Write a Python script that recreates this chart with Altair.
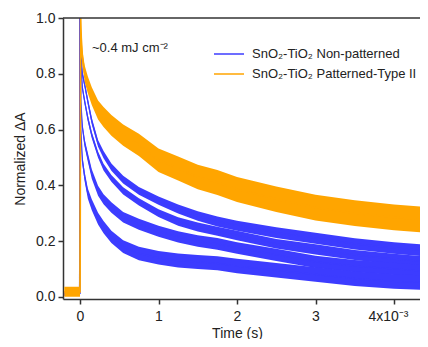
import altair as alt
import pandas as pd

# time in ms (axis shows x10^-3 s)
T_BLUE = [-0.2, -0.1, -0.005, 0.0, 0.01, 0.03, 0.06, 0.1, 0.15, 0.23, 0.3, 0.4, 0.55,
          0.75, 1.0, 1.25, 1.5, 1.75, 2.0, 2.5, 3.0, 3.5, 4.0, 4.45]
T_ORANGE = [-0.2, -0.1, 0.0, 0.008, 0.015, 0.03, 0.06, 0.1, 0.15, 0.23, 0.3, 0.4, 0.55,
            0.75, 1.0, 1.25, 1.5, 1.75, 2.0, 2.5, 3.0, 3.5, 4.0, 4.45]

ORANGE = [0.018, 0.018, 0.018, 1.0, 0.93, 0.86, 0.80, 0.76, 0.72, 0.67, 0.645, 0.615,
          0.58, 0.545, 0.49, 0.46, 0.43, 0.41, 0.385, 0.35, 0.32, 0.30, 0.285, 0.275]
B1 = [0.012, 0.012, 0.012, 1.0, 0.88, 0.80, 0.76, 0.70, 0.63, 0.55, 0.51, 0.465, 0.42,
      0.38, 0.345, 0.315, 0.29, 0.27, 0.255, 0.23, 0.21, 0.19, 0.175, 0.165]
B2 = [0.012, 0.012, 0.012, 1.0, 0.85, 0.75, 0.70, 0.64, 0.58, 0.51, 0.465, 0.425, 0.38,
      0.34, 0.30, 0.27, 0.25, 0.235, 0.22, 0.19, 0.17, 0.15, 0.135, 0.125]
B3 = [0.012, 0.012, 0.012, 1.0, 0.70, 0.61, 0.55, 0.50, 0.44, 0.38, 0.35, 0.32, 0.285,
      0.26, 0.235, 0.215, 0.20, 0.19, 0.175, 0.15, 0.125, 0.11, 0.10, 0.09]
B4 = [0.012, 0.012, 0.012, 1.0, 0.60, 0.49, 0.43, 0.37, 0.33, 0.28, 0.25, 0.215, 0.18,
      0.155, 0.14, 0.13, 0.125, 0.12, 0.11, 0.095, 0.08, 0.065, 0.055, 0.05]

# half-width of the noise band
HW_ORANGE = [0.018, 0.018, 0.018, 0.0, 0.02, 0.025, 0.03, 0.03, 0.032, 0.034, 0.036, 0.037,
             0.038, 0.04, 0.042, 0.043, 0.044, 0.045, 0.045, 0.046, 0.046, 0.046, 0.046, 0.046]
HW_B1 = [0.008, 0.008, 0.008, 0.0, 0.008, 0.01, 0.01, 0.011, 0.012, 0.012, 0.013, 0.013,
         0.014, 0.014, 0.015, 0.016, 0.017, 0.018, 0.018, 0.019, 0.02, 0.02, 0.021, 0.021]
HW_B2 = [0.008, 0.008, 0.008, 0.0, 0.008, 0.01, 0.01, 0.011, 0.011, 0.011, 0.012, 0.012,
         0.013, 0.013, 0.014, 0.015, 0.016, 0.016, 0.017, 0.017, 0.018, 0.018, 0.019, 0.019]
HW_B3 = [0.008, 0.008, 0.008, 0.0, 0.01, 0.012, 0.014, 0.016, 0.017, 0.018, 0.018, 0.019,
         0.019, 0.02, 0.02, 0.02, 0.021, 0.021, 0.021, 0.022, 0.022, 0.022, 0.022, 0.022]
HW_B4 = [0.008, 0.008, 0.008, 0.0, 0.012, 0.015, 0.017, 0.018, 0.02, 0.021, 0.022, 0.022,
         0.023, 0.024, 0.024, 0.025, 0.025, 0.025, 0.026, 0.026, 0.026, 0.026, 0.026, 0.026]

S_BLUE = "SnO₂-TiO₂ Non-patterned"
S_ORANGE = "SnO₂-TiO₂ Patterned-Type II"

curves = [("b1", S_BLUE, T_BLUE, B1, HW_B1), ("b2", S_BLUE, T_BLUE, B2, HW_B2),
          ("b3", S_BLUE, T_BLUE, B3, HW_B3), ("b4", S_BLUE, T_BLUE, B4, HW_B4),
          ("o1", S_ORANGE, T_ORANGE, ORANGE, HW_ORANGE)]
rows = []
for cid, ser, ts, vals, hws in curves:
    for t, v, h in zip(ts, vals, hws):
        rows.append({"t": t, "v": v, "lo": v - h, "hi": v + h, "series": ser, "curve": cid})
df = pd.DataFrame(rows)

W, H = 357, 281
xscale = alt.Scale(domain=[-0.2166, 4.331], nice=False, zero=False)
yscale = alt.Scale(domain=[-0.008, 1.0], nice=False, zero=False)
cscale = alt.Scale(domain=[S_BLUE, S_ORANGE], range=["#3c3cff", "#ffa500"])

xaxis = alt.Axis(values=[0, 1, 2, 3, 4], title="Time (s)",
                 labelExpr="datum.value == 4 ? '4x10⁻³' : datum.label",
                 labelOffset={"condition": {"test": "datum.value == 4", "value": -6}, "value": 0},
                 titleX=174, titlePadding=3, labelPadding=5)
yaxis = alt.Axis(values=[0, 0.2, 0.4, 0.6, 0.8, 1.0], format=".1f", title="Normalized ΔA",
                 titlePadding=8, labelPadding=3)

legend = alt.Legend(orient="none", legendX=150, legendY=28, title=None,
                    symbolType="stroke", symbolSize=900, symbolStrokeWidth=1.5,
                    labelFontSize=13, labelFont="Liberation Sans", labelColor="#222",
                    labelOffset=7, clipHeight=16, rowPadding=4, padding=0, labelLimit=400)


def layer_for(series, sw):
    b = alt.Chart(df).transform_filter(alt.datum.series == series)
    area = b.mark_area(clip=True, opacity=1).encode(
        x=alt.X("t:Q", scale=xscale, axis=xaxis),
        y=alt.Y("lo:Q", scale=yscale, axis=yaxis),
        y2="hi:Q",
        color=alt.Color("series:N", scale=cscale, legend=legend),
        detail="curve:N",
    )
    line = b.mark_line(clip=True, strokeWidth=sw).encode(
        x=alt.X("t:Q", scale=xscale, axis=xaxis),
        y=alt.Y("v:Q", scale=yscale, axis=yaxis),
        color=alt.Color("series:N", scale=cscale, legend=legend),
        detail="curve:N",
    )
    return area + line


one = pd.DataFrame({"a": [0]})
top_border = alt.Chart(one).mark_rule(color="#333", strokeWidth=1.5).encode(
    y=alt.value(0), x=alt.value(0), x2=alt.value(W))
note = alt.Chart(one).mark_text(align="left", baseline="middle", fontSize=13,
                                font="Liberation Sans", color="#222").encode(
    x=alt.value(29), y=alt.value(30), text=alt.value("~0.4 mJ cm⁻²"))

chart = alt.layer(layer_for(S_BLUE, 1.3), layer_for(S_ORANGE, 1.8), top_border, note).properties(
    width=W, height=H,
    autosize=alt.AutoSizeParams(type="none"),
    padding={"left": 55, "top": 10, "right": 0, "bottom": 40},
).configure_view(stroke=None).configure_axis(
    grid=False, labelFont="Liberation Sans", titleFont="Liberation Sans",
    labelFontSize=14, titleFontSize=14, labelColor="#222", titleColor="#222",
    titleFontWeight="normal", domainColor="#333", tickColor="#333",
    domainWidth=1.5, tickWidth=1.5, tickSize=5,
)

chart.save("out.html", embed_options={"renderer": "svg", "actions": False})
